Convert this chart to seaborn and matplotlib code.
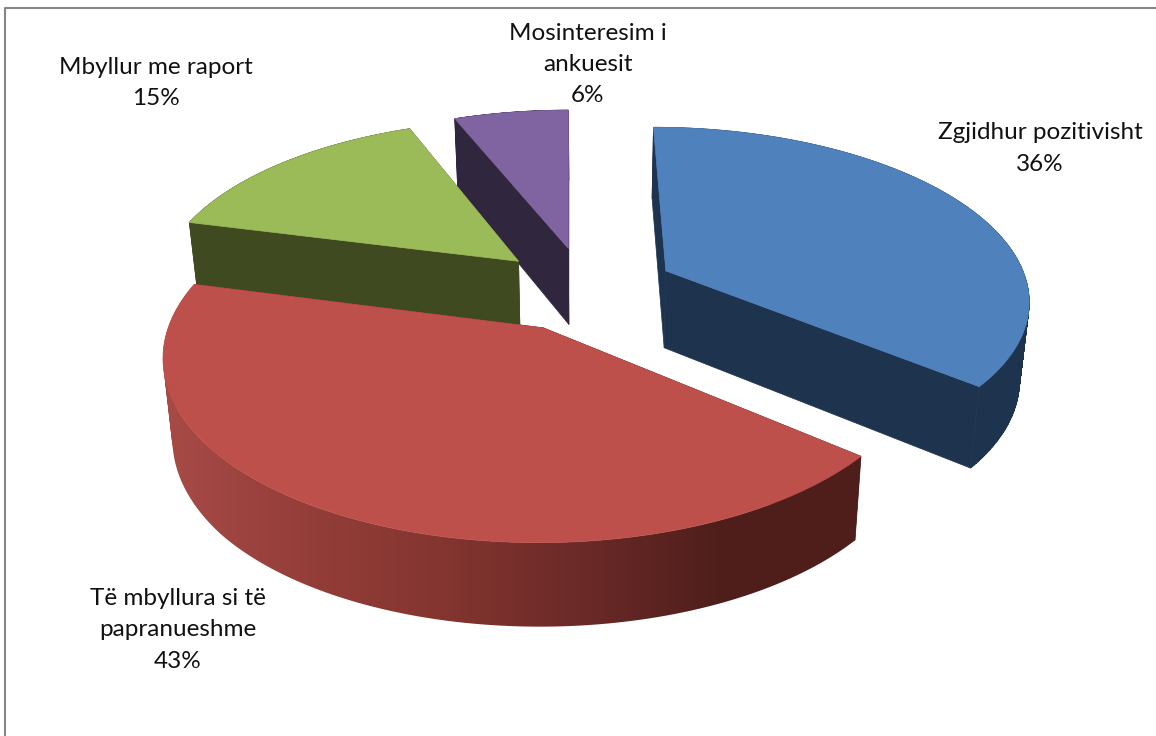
import numpy as np
import matplotlib
matplotlib.use("Agg")
import matplotlib.pyplot as plt
from matplotlib.path import Path
from matplotlib.patches import PathPatch
import seaborn as sns

# ---- data -------------------------------------------------------------
categories = ["Zgjidhur pozitivisht", "Të mbyllura si të\npapranueshme",
              "Mbyllur me raport", "Mosinteresim i\nankuesit"]
values = [36, 43, 15, 6]
explode = [0.25, 0.25, 0.25, 0.25]

top_colors = ["#4F81BD", "#BE504C", "#9BBB59", "#8064A2"]
wall_colors = ["#1E334D", "#4F1E1B", "#404A21", "#30273F"]
red_gradient = ["#A84B47", "#953E3A", "#84352F", "#6B2A28", "#4F1E1B", "#4F1E1B"]

label_xy = [(1040, 148.5), (178, 630), (156, 83), (588, 64.5)]

# ---- style / projection ------------------------------------------------
sns.set_theme(style="white")
plt.rcParams['font.family'] = ['Lato', 'DejaVu Sans']

W, H = 1156, 736
X0, Y0, R, K, P = 569.0, 299.0, 366.0, 173.0, 0.15
CU, CV = 0.045, 0.06


def project(u, v):
    s = 1.0 / (1.0 + P * v)
    return X0 + R * u * s, Y0 - K * v * s


def floor(x, y):
    return x - 0.022 * (x - 590.0), y + np.minimum(66.0 + 0.04 * y, 84.0)


def rim_path(xs, ys):
    """Union of the extruded strips of an arc, as one compound path."""
    fx, fy = floor(xs, ys)
    verts, codes = [], []
    for j in range(len(xs) - 1):
        q = np.array([[xs[j], ys[j]], [xs[j + 1], ys[j + 1]],
                      [fx[j + 1], fy[j + 1]], [fx[j], fy[j]]])
        area = np.sum(q[:, 0] * np.roll(q[:, 1], -1) - np.roll(q[:, 0], -1) * q[:, 1])
        if area < 0:
            q = q[::-1]
        verts.extend(q.tolist() + [q[0].tolist()])
        codes.extend([Path.MOVETO, Path.LINETO, Path.LINETO, Path.LINETO, Path.CLOSEPOLY])
    return Path(verts, codes)


fig = plt.figure(figsize=(W / 100, H / 100), dpi=100, facecolor="white")
ax = fig.add_axes([0, 0, 1, 1])
ax.axis("off")

# chart frame (only left and top edges fall inside the crop)
ax.plot([4.5, 4.5, W], [H, 7.5, 7.5], color="#868686", lw=1.5, solid_capstyle="butt")

fractions = np.array(values, float) / np.sum(values)
stops = np.concatenate([[0], np.cumsum(fractions)]) * 2 * np.pi
gradient = np.array(sns.blend_palette(red_gradient, 256))[None, :, :]


def quad(xa, ya, xb, yb, color, z):
    fx0, fy0 = floor(xa, ya)
    fx1, fy1 = floor(xb, yb)
    ax.fill([xa, xb, fx1, fx0], [ya, yb, fy1, fy0], facecolor=color,
            edgecolor=color, lw=0.5, zorder=z)


for i in [3, 2, 0, 1]:
    a0, a1 = stops[i], stops[i + 1]
    mid = (a0 + a1) / 2
    cu = CU + explode[i] * np.sin(mid)
    cv = CV + explode[i] * np.cos(mid)
    ang = np.linspace(a0, a1, 240)
    arc_x, arc_y = project(cu + np.sin(ang), cv + np.cos(ang))
    apex_x, apex_y = project(cu, cv)
    base = 10 * (i == 0) + 20 * (i == 1) + 5 * (i == 2)
    # radial walls
    quad(apex_x, apex_y, arc_x[0], arc_y[0], wall_colors[i], base + 1)
    quad(apex_x, apex_y, arc_x[-1], arc_y[-1], wall_colors[i], base + 1)
    # rim wall
    path = rim_path(arc_x, arc_y)
    if i == 1:
        clip = PathPatch(path, facecolor="none", edgecolor="none", transform=ax.transData)
        ax.add_patch(clip)
        im = ax.imshow(gradient, extent=(160, 862, 640, 280), aspect="auto",
                       interpolation="bilinear", zorder=base + 2)
        im.set_clip_path(clip)
    else:
        ax.add_patch(PathPatch(path, facecolor=wall_colors[i], edgecolor=wall_colors[i],
                               lw=0.5, zorder=base + 2))
    # top face
    ax.fill(np.r_[apex_x, arc_x], np.r_[apex_y, arc_y], facecolor=top_colors[i],
            edgecolor=top_colors[i], lw=0.5, zorder=base + 3)

ax.set_xlim(0, W)
ax.set_ylim(H, 0)

for name, val, (lx, ly) in zip(categories, values, label_xy):
    ax.text(lx, ly, f"{name}\n{val}%", ha="center", va="center", fontsize=17.5,
            color="#111111", linespacing=1.6, zorder=50)

fig.savefig("out.png", dpi=100, facecolor="white")
